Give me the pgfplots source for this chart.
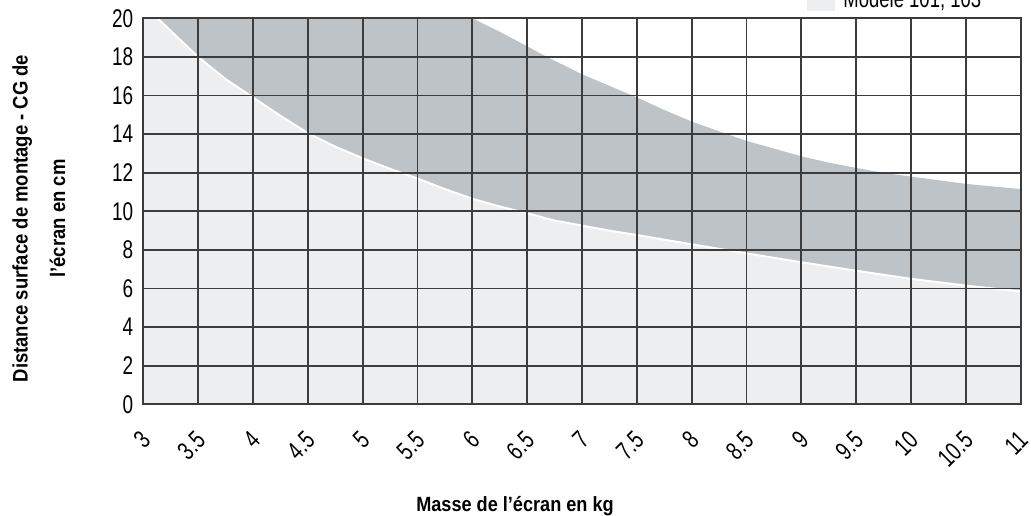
\documentclass[border=0pt]{standalone}
\usepackage{fontspec}
\setmainfont{Liberation Sans}[FakeStretch=0.74]
\newfontfamily\labfont{Liberation Sans}[FakeStretch=0.88]
\usepackage{pgfplots}
\pgfplotsset{compat=1.18}
\definecolor{lightfill}{HTML}{EDEEF0}
\definecolor{darkfill}{HTML}{BDC3C6}
\definecolor{gridc}{HTML}{3C3C3C}
\begin{document}
\begin{tikzpicture}
\begin{axis}[
  at={(71.65pt,55.35pt)}, anchor=south west,
  scale only axis, width=438.7pt, height=193pt,
  xmin=3, xmax=11, ymin=0, ymax=20,
  xtick={3,3.5,4,4.5,5,5.5,6,6.5,7,7.5,8,8.5,9,9.5,10,10.5,11},
  ytick={0,2,4,6,8,10,12,14,16,18,20},
  grid=major, major grid style={gridc, line width=0.9pt},
  axis line style={gridc, line width=0.9pt},
  major tick length=0pt,
  axis on top,
  tick label style={font=\fontsize{12.8}{14}\selectfont},
  /pgf/number format/assume math mode=true,
  xticklabel style={xshift=3.7pt, yshift=-13.5pt, rotate=45, anchor=east},
  yticklabel style={xshift=-1.5pt},
]
\addplot[fill=darkfill, draw=none] coordinates {
 (3,0) (3,20) (6.0,20) (6.25,19.3) (6.5,18.55) (6.68,18.0) (7,17.1) (7.25,16.5)
 (7.5,15.9) (7.75,15.25) (8,14.65) (8.32,14.0) (8.5,13.65) (8.75,13.25) (9,12.85)
 (9.25,12.52) (9.5,12.25) (9.74,12.0) (10,11.8) (10.5,11.42) (11,11.15) (11,0)
} -- cycle;
\addplot[fill=lightfill, draw=none] coordinates {
 (3,0) (3,20) (3.13,20) (3.25,19.35) (3.5,18.0) (3.75,16.85) (4,15.9) (4.25,14.95)
 (4.5,14.05) (4.75,13.35) (5,12.75) (5.25,12.2) (5.5,11.7) (5.75,11.15) (6,10.65)
 (6.25,10.25) (6.5,9.9) (6.75,9.52) (7,9.26) (7.25,9.0) (7.5,8.77) (8,8.29)
 (8.5,7.82) (9,7.36) (9.5,6.92) (10,6.5) (10.5,6.15) (11,5.85) (11,0)
} -- cycle;
\addplot[white, line width=1pt] coordinates {
 (3.13,20) (3.25,19.35) (3.5,18.0) (3.75,16.85) (4,15.9) (4.25,14.95)
 (4.5,14.05) (4.75,13.35) (5,12.75) (5.25,12.2) (5.5,11.7) (5.75,11.15) (6,10.65)
 (6.25,10.25) (6.5,9.9) (6.75,9.52) (7,9.26) (7.25,9.0) (7.5,8.77) (8,8.29)
 (8.5,7.82) (9,7.36) (9.5,6.92) (10,6.5) (10.5,6.15) (11,5.85)
};
\end{axis}
\node[rotate=90, anchor=base, font=\labfont\bfseries\fontsize{10.5}{12}\selectfont] at (13.8pt,148.25pt) {Distance surface de montage - CG de};
\node[rotate=90, anchor=base, font=\labfont\bfseries\fontsize{10.5}{12}\selectfont] at (32.5pt,148.25pt) {l’écran en cm};
\node[anchor=base, font=\labfont\bfseries\fontsize{10.3}{12}\selectfont] at (257.5pt,2pt) {Masse de l’écran en kg};
\fill[lightfill] (403.5pt,252.2pt) rectangle (417.5pt,262pt);
\node[anchor=base west, inner sep=0pt, font=\fontsize{12.5}{14}\selectfont] at (421.5pt,253.5pt) {Modèle 101, 103};
\pgfresetboundingbox
\useasboundingbox (0,0) rectangle (515.5pt,257.5pt);
\end{tikzpicture}
\end{document}
